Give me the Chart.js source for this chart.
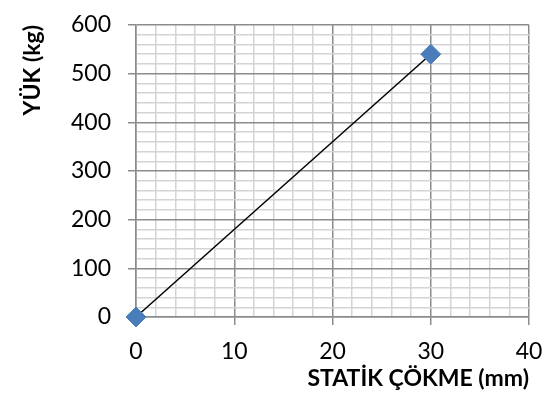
<!DOCTYPE html>
<html>
<head>
<meta charset="utf-8">
<script src="https://cdn.jsdelivr.net/npm/chart.js@4"></script>
<style>
  html, body { margin: 0; padding: 0; background: #ffffff; }
  #box { width: 558px; height: 412px; }
</style>
</head>
<body>
<div id="box"><canvas id="grafico"></canvas></div>
<script>
// valores
const cokme = [0, 30]      // STATİK ÇÖKME (mm)
const yuk = [0, 540]       // YÜK (kg)
const xTicks = [0, 10, 20, 30, 40]
const yTicks = [0, 100, 200, 300, 400, 500, 600]

const fonte = "Lato, 'Liberation Sans', sans-serif"

const pontos = cokme.map((x, i) => ({ x: x, y: yuk[i] }))

// linha principal so nos valores com rotulo
function corGrade(lista) {
    return ctx => lista.includes(ctx.tick.value) ? '#8c8c8c' : '#d4d4d4'
}
function corTick(lista) {
    return ctx => lista.includes(ctx.tick.value) ? '#8c8c8c' : 'rgba(0,0,0,0)'
}

new Chart(document.getElementById("grafico"), {
    type: 'scatter',
    data: {
        datasets: [{
            data: pontos,
            showLine: true,
            clip: false,
            borderColor: '#000000',
            borderWidth: 1.5,
            pointStyle: 'rectRot',
            pointRadius: 10,
            pointHoverRadius: 10,
            pointBackgroundColor: '#4a7ebb',
            pointBorderColor: '#4a7ebb',
            pointBorderWidth: 1
        }]
    },
    options: {
        responsive: true,
        maintainAspectRatio: false,
        animation: false,
        events: [],
        layout: { padding: { top: 0, right: 29, left: 0, bottom: 0 } },
        plugins: { legend: { display: false }, tooltip: { enabled: false } },
        scales: {
            x: {
                type: 'linear',
                min: 0,
                max: 40,
                afterFit: s => { s.height = 95 },
                border: { color: '#8c8c8c', width: 1.5 },
                grid: {
                    color: corGrade(xTicks),
                    lineWidth: 1.5,
                    tickColor: corTick(xTicks),
                    tickLength: 8
                },
                ticks: {
                    stepSize: 2,
                    autoSkip: false,
                    maxRotation: 0,
                    padding: 13,
                    color: '#000000',
                    font: { family: fonte, size: 23 },
                    callback: v => xTicks.includes(v) ? String(v) : ''
                },
                title: {
                    display: true,
                    text: 'STATİK ÇÖKME (mm)',
                    align: 'end',
                    color: '#000000',
                    font: { family: fonte, size: 23, weight: 'bold' },
                    padding: { top: 0, bottom: 20 }
                }
            },
            y: {
                type: 'linear',
                min: 0,
                max: 600,
                // largura fixa e topo do grafico em 25px
                afterFit: s => { s.width = 136; s.paddingTop = 25 },
                border: { color: '#8c8c8c', width: 1.5 },
                grid: {
                    color: corGrade(yTicks),
                    lineWidth: 1.5,
                    tickColor: corTick(yTicks),
                    tickLength: 8
                },
                ticks: {
                    stepSize: 20,
                    autoSkip: false,
                    padding: 17,
                    color: '#000000',
                    font: { family: fonte, size: 23 },
                    callback: v => yTicks.includes(v) ? String(v) : ''
                },
                title: {
                    display: true,
                    text: 'YÜK (kg)',
                    align: 'end',
                    color: '#000000',
                    font: { family: fonte, size: 23, weight: 'bold' },
                    padding: { top: 19, bottom: 0 }
                }
            }
        }
    }
})
</script>
</body>
</html>
